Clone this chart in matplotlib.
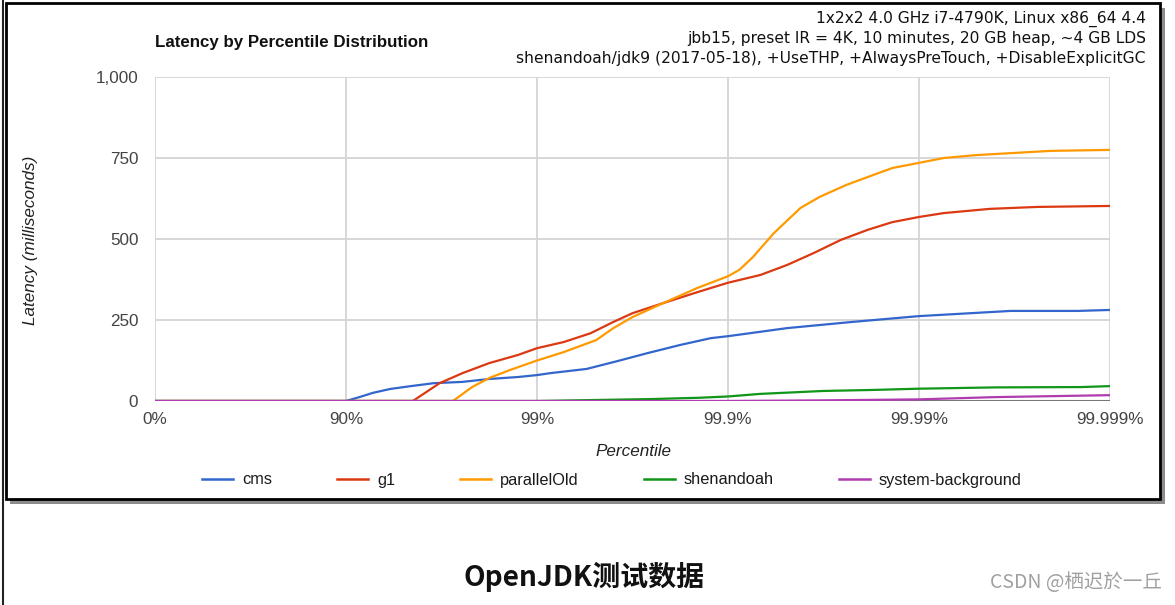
import matplotlib
matplotlib.use("Agg")
import matplotlib.pyplot as plt
from matplotlib.patches import Rectangle
from matplotlib.lines import Line2D

# ---- data (x in "nines": 0 -> 0%, 1 -> 90%, 2 -> 99%, ... 5 -> 99.999%) ----
tick_pos = [0, 1, 2, 3, 4, 5]
tick_labels = ["0%", "90%", "99%", "99.9%", "99.99%", "99.999%"]
y_ticks = [0, 250, 500, 750, 1000]
y_tick_labels = ["0", "250", "500", "750", "1,000"]

series_names = ["cms", "g1", "parallelOld", "shenandoah", "system-background"]
series_colors = ["#3366cc", "#dc3912", "#ff9900", "#109618", "#b03cb0"]

cms_x = [0, 1.0, 1.07, 1.14, 1.23, 1.34, 1.46, 1.61, 1.75, 1.90, 2.0, 2.07, 2.26,
         2.42, 2.58, 2.75, 2.91, 3.0, 3.31, 3.65, 4.0, 4.48, 4.83, 5.0]
cms_y = [0, 0, 12, 25, 37, 46, 55, 59, 68, 74, 80, 86, 99,
         123, 148, 173, 194, 200, 225, 244, 262, 278, 278, 281]

g1_x = [0, 1.35, 1.49, 1.61, 1.75, 1.90, 2.0, 2.14, 2.28, 2.40, 2.50, 2.66, 2.84,
        3.0, 3.17, 3.31, 3.45, 3.59, 3.73, 3.86, 4.0, 4.13, 4.37, 4.62, 5.0]
g1_y = [0, 0, 55, 86, 117, 142, 163, 182, 209, 244, 271, 302, 336,
        365, 389, 420, 457, 497, 528, 552, 568, 580, 593, 599, 602]

po_x = [0, 1.56, 1.66, 1.75, 1.86, 2.0, 2.14, 2.31, 2.40, 2.50, 2.66, 2.84, 3.0,
        3.06, 3.13, 3.24, 3.38, 3.48, 3.62, 3.73, 3.86, 4.0, 4.13, 4.30, 4.48, 4.69, 5.0]
po_y = [0, 0, 43, 71, 96, 125, 151, 188, 225, 259, 302, 349, 385,
        405, 444, 518, 596, 630, 667, 691, 719, 735, 750, 759, 765, 772, 775]

shen_x = [0, 2.0, 2.3, 2.6, 2.85, 3.0, 3.17, 3.5, 3.75, 4.0, 4.4, 4.85, 5.0]
shen_y = [0, 0, 3, 6, 10, 14, 22, 31, 34, 38, 42, 43, 46]

sysbg_x = [0, 3.0, 3.5, 4.0, 4.4, 5.0]
sysbg_y = [0, 0, 2, 5, 12, 18]

series_x = [cms_x, g1_x, po_x, shen_x, sysbg_x]
series_y = [cms_y, g1_y, po_y, shen_y, sysbg_y]

W, H = 1175, 605
fig = plt.figure(figsize=(W / 100, H / 100), dpi=100)
fig.patch.set_facecolor("white")

def fx(px):
    return px / W

def fy(py):
    return 1 - py / H

# outer frame pieces
fig.add_artist(Line2D([fx(2.5), fx(2.5)], [0, 1], color="#222222", lw=1.5,
                      transform=fig.transFigure))
shadow = Rectangle((fx(10), fy(504)), fx(1165) - fx(10), fy(8) - fy(504),
                   transform=fig.transFigure, facecolor="#8c8c8c",
                   edgecolor="none", zorder=0)
fig.add_artist(shadow)
box = Rectangle((fx(6), fy(499)), fx(1160) - fx(6), fy(3) - fy(499),
                transform=fig.transFigure, facecolor="white",
                edgecolor="black", lw=2.0, zorder=0.5)
fig.add_artist(box)

ax = fig.add_axes([fx(155), fy(401), fx(1110) - fx(155), fy(77) - fy(401)])
ax.set_zorder(2)
ax.patch.set_alpha(0)
ax.set_xlim(0, 5)
ax.set_ylim(0, 1000)
for s in ax.spines.values():
    s.set_visible(False)

for xv in tick_pos:
    ax.axvline(xv, color="#d4d4d4", lw=1.3, zorder=1)
for yv in y_ticks[1:]:
    ax.axhline(yv, color="#d4d4d4", lw=1.3, zorder=1)
ax.axhline(0, color="#777777", lw=1.5, zorder=1.5)

for xs, ys, c, n in zip(series_x, series_y, series_colors, series_names):
    ax.plot(xs, ys, color=c, lw=1.6, label=n, zorder=3, solid_joinstyle="round")

ax.set_xticks(tick_pos)
ax.set_xticklabels(tick_labels)
ax.set_yticks(y_ticks)
ax.set_yticklabels(y_tick_labels)
ax.tick_params(axis="both", length=0, labelsize=12.3, labelcolor="#444444")
ax.tick_params(axis="x", pad=8)
ax.tick_params(axis="y", pad=12)
for lab in ax.get_xticklabels() + ax.get_yticklabels():
    lab.set_fontfamily("Liberation Sans")

fig.text(fx(633), fy(451), "Percentile", ha="center", va="center",
         fontsize=12.3, style="italic", family="Liberation Sans", color="#222222")
fig.text(fx(31), fy(240), "Latency (milliseconds)", ha="center", va="center",
         rotation=90, fontsize=12.3, style="italic", family="Liberation Sans",
         color="#222222")

fig.text(fx(155), fy(42), "Latency by Percentile Distribution", ha="left",
         va="center", fontsize=12.2, weight="bold", family="Liberation Sans",
         color="#111111")

header = ["1x2x2 4.0 GHz i7-4790K, Linux x86_64 4.4",
          "jbb15, preset IR = 4K, 10 minutes, 20 GB heap, ~4 GB LDS",
          "shenandoah/jdk9 (2017-05-18), +UseTHP, +AlwaysPreTouch, +DisableExplicitGC"]
for i, line in enumerate(header):
    fig.text(fx(1146), fy(19 + 20 * i), line, ha="right", va="center",
             fontsize=11.2, family="DejaVu Sans", color="#111111")

leg = fig.legend(loc="center", bbox_to_anchor=(fx(612), fy(480)), ncol=5,
                 frameon=False, handlelength=1.9, handletextpad=0.55,
                 columnspacing=3.95, prop={"family": "Liberation Sans", "size": 11.8})
for t in leg.get_texts():
    t.set_color("#1a1a1a")
for h in leg.legend_handles:
    h.set_linewidth(1.8)

fig.text(fx(584), fy(577), "OpenJDK测试数据", ha="center", va="center",
         fontsize=20.2, weight="bold", family=["Noto Sans CJK SC", "DejaVu Sans"],
         color="#111111")
fig.text(fx(1162), fy(583), "CSDN @栖迟於一丘", ha="right", va="center",
         fontsize=14, family=["Noto Sans CJK SC", "DejaVu Sans"],
         color="#a0a0a0")

fig.savefig("out.png", dpi=100)
